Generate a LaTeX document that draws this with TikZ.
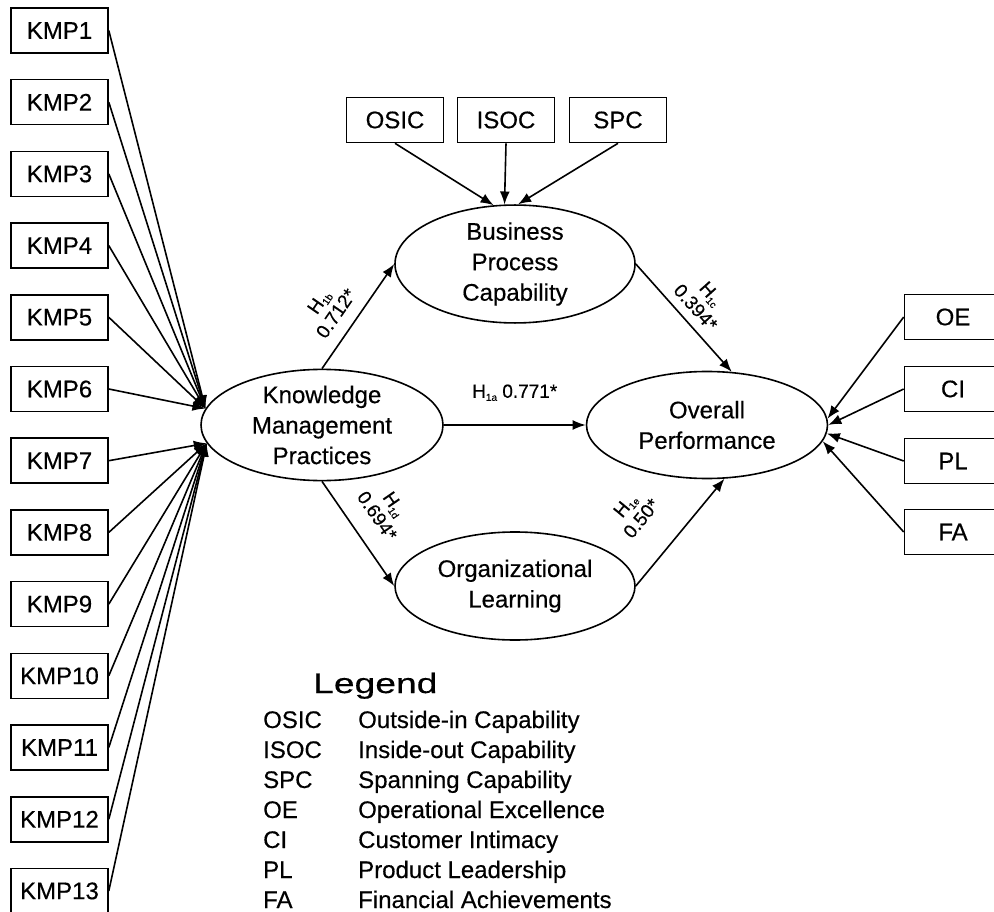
\documentclass[tikz,border=0pt]{standalone}
\usepackage{fontspec}
\setmainfont{Liberation Sans}[FakeBold=0.4]
\newfontfamily\legendfont{Liberation Sans}[FakeStretch=1.33, FakeBold=0.4]
\usetikzlibrary{arrows.meta,shapes.geometric}

\tikzset{
  caja/.style={draw, line width=1.6pt, minimum width=97pt, minimum height=45pt, inner sep=0pt, font=\fontsize{24}{30}\selectfont},
  elipse/.style={draw, ellipse, line width=1.6pt, inner sep=0pt, align=center, font=\fontsize{24}{30.5}\selectfont},
  flecha/.style={->, line width=1.6pt},
  etiqueta/.style={font=\fontsize{19}{21}\selectfont, align=center, sloped},
  leyenda/.style={anchor=base west, inner sep=0pt, font=\fontsize{24}{30}\selectfont}
}
\newcommand{\hip}[1]{H\raisebox{-3pt}{\fontsize{10}{10}\selectfont #1}}

\begin{document}
\begin{tikzpicture}[x=1pt, y=-1pt, >={Latex[length=13pt,width=10pt]}]
    \useasboundingbox (0,0) rectangle (994,912);
    \clip (0,0) rectangle (994,912);
    % Indicadores KMP
    \foreach \i in {1,...,13}
      \node[caja] (kmp\i) at (59.5, {30.5+71.7*(\i-1)}) {KMP\i};
    % Capacidades
    \node[caja] (osic) at (395,120) {OSIC};
    \node[caja] (isoc) at (506,120) {ISOC};
    \node[caja] (spc) at (618,120) {SPC};
    % Resultados
    \node[caja] (oe) at (953,317) {OE};
    \node[caja] (ci) at (953,389) {CI};
    \node[caja] (pl) at (953,461) {PL};
    \node[caja] (fa) at (953,532) {FA};
    % Constructos
    \node[elipse, minimum width=242pt, minimum height=110pt] (km) at (322,425) {Knowledge\\Management\\Practices};
    \node[elipse, minimum width=240pt, minimum height=107pt] (bpc) at (515,264) {Business\\Process\\Capability};
    \node[elipse, minimum width=241pt, minimum height=107pt] (op) at (707,425) {Overall\\Performance};
    \node[elipse, minimum width=240pt, minimum height=108pt] (ol) at (515,586) {Organizational\\Learning};
    % Flechas de los indicadores
    \foreach \i in {1,...,6}
      \draw[flecha] (kmp\i.east) -- (km.172);
    \foreach \i in {7,...,13}
      \draw[flecha] (kmp\i.east) -- (km.189);
    \draw[flecha] (osic.south) -- (bpc.110);
    \draw[flecha] (isoc.south) -- (bpc.100);
    \draw[flecha] (spc.south) -- (bpc.87);
    \draw[flecha] (oe.west) -- (op.3);
    \draw[flecha] (ci.west) -- (op.0);
    \draw[flecha] (pl.west) -- (op.-4);
    \draw[flecha] (fa.west) -- (op.-8);
    % Hipotesis
    \draw[flecha] (km.east) -- (op.west)
      node[midway, above=20pt, font=\fontsize{19}{21}\selectfont] (h1a) {\hip{1a} 0.771*};
    \draw[flecha] (km.north) -- (bpc.west)
      node[etiqueta, pos=0.42, above=9pt] (h1b) {\hip{1b}\\0.712*};
    \draw[flecha] (bpc.east) -- (op.65)
      node[etiqueta, pos=0.5, above=5pt] (h1c) {\hip{1c}\\0.394*};
    \draw[flecha] (km.south) -- (ol.west)
      node[etiqueta, pos=0.47, above=15pt] (h1d) {\hip{1d}\\0.694*};
    \draw[flecha] (ol.east) -- (op.-72)
      node[etiqueta, pos=0.4, above=28pt] (h1e) {\hip{1e}\\0.50*};
    % Leyenda
    \node[anchor=base west, inner sep=0pt, font=\legendfont\fontsize{28}{30}\selectfont] (titulo) at (313,693) {Legend};
    \foreach \abr/\desc [count=\j from 0] in {OSIC/Outside-in Capability, ISOC/Inside-out Capability,
        SPC/Spanning Capability, OE/Operational Excellence, CI/Customer Intimacy,
        PL/Product Leadership, FA/Financial Achievements} {
      \node[leyenda] (abr\j) at (263, {728+30*\j}) {\abr};
      \node[leyenda] (desc\j) at (358, {728+30*\j}) {\desc};
    }
\end{tikzpicture}
\end{document}
